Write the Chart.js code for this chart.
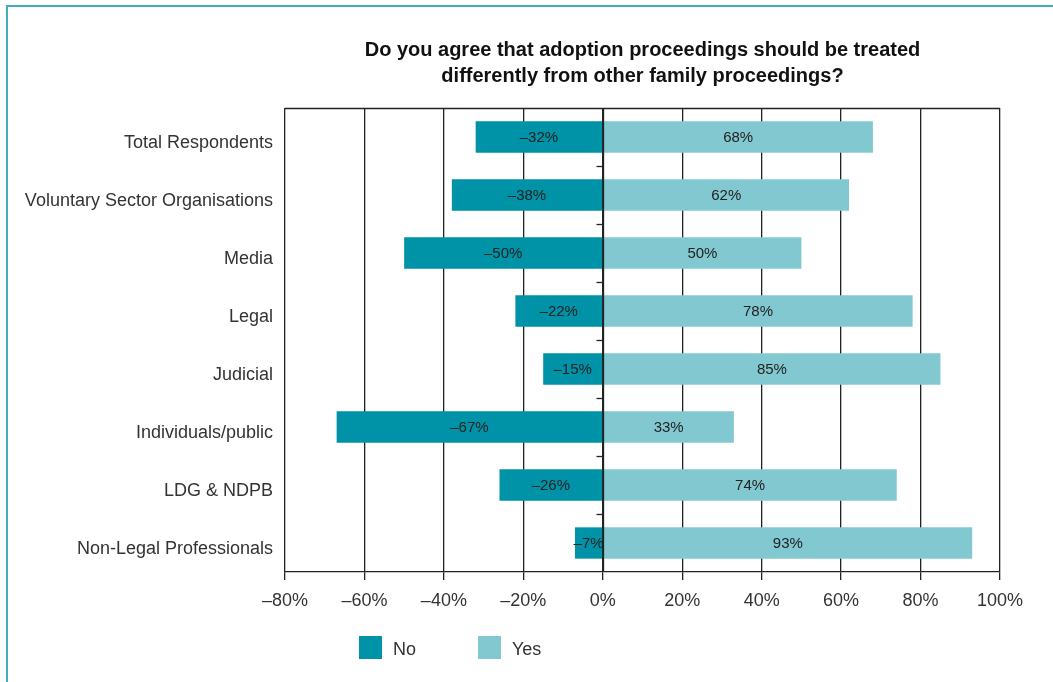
<!DOCTYPE html>
<html>
<head>
<meta charset="utf-8">
<script src="https://cdn.jsdelivr.net/npm/chart.js@4"></script>
<style>
  html, body { margin: 0; padding: 0; background: #fff; }
  #frame {
    position: absolute; left: 6px; top: 5px; right: -10px; bottom: -10px;
    border-left: 2px solid #3fb0ba; border-top: 2px solid #3fb0ba;
  }
  #wrap { position: absolute; left: 0; top: 0; width: 1053px; height: 682px; }
</style>
</head>
<body>
<div id="frame"></div>
<div id="wrap"><canvas id="c" width="1053" height="682"></canvas></div>
<script>
const categories = [
  'Total Respondents',
  'Voluntary Sector Organisations',
  'Media',
  'Legal',
  'Judicial',
  'Individuals/public',
  'LDG & NDPB',
  'Non-Legal Professionals'
];
const noValues = [-32, -38, -50, -22, -15, -67, -26, -7];
const yesValues = [68, 62, 50, 78, 85, 33, 74, 93];
const seriesNames = ['No', 'Yes'];
const seriesColors = ['#0092a7', '#82c8d1'];
const titleLines = [
  'Do you agree that adoption proceedings should be treated',
  'differently from other family proceedings?'
];

const FONT = '"Liberation Sans", Arial, sans-serif';
const fmtPct = v => (v < 0 ? '\u2013' + Math.abs(v) : String(v)) + '%';

const overlay = {
  id: 'overlay',
  afterDatasetsDraw(chart) {
    const { ctx, chartArea, scales } = chart;
    const x = scales.x, y = scales.y;
    ctx.save();
    // zero line on top of bars
    const x0 = Math.round(x.getPixelForValue(0)) + 0.5;
    ctx.strokeStyle = '#222';
    ctx.lineWidth = 1.3;
    ctx.beginPath();
    ctx.moveTo(x0, chartArea.top);
    ctx.lineTo(x0, chartArea.bottom);
    ctx.stroke();
    // category separators on the zero line
    for (let i = 0; i < categories.length - 1; i++) {
      const yy = Math.round((y.getPixelForValue(i) + y.getPixelForValue(i + 1)) / 2) + 0.5;
      ctx.beginPath();
      ctx.moveTo(x0 - 7, yy);
      ctx.lineTo(x0, yy);
      ctx.stroke();
    }
    // top frame line
    ctx.beginPath();
    ctx.moveTo(chartArea.left, Math.round(chartArea.top) + 0.5);
    ctx.lineTo(chartArea.right, Math.round(chartArea.top) + 0.5);
    ctx.stroke();

    // value labels
    ctx.font = '15px ' + FONT;
    ctx.fillStyle = '#222';
    ctx.textAlign = 'center';
    ctx.textBaseline = 'middle';
    chart.data.datasets.forEach((ds, di) => {
      const meta = chart.getDatasetMeta(di);
      meta.data.forEach((bar, i) => {
        const cx = (bar.x + bar.base) / 2;
        ctx.fillText(fmtPct(ds.data[i]), cx, bar.y + 1);
      });
    });

    // title
    const cxTitle = (chartArea.left + chartArea.right) / 2;
    ctx.font = 'bold 20px ' + FONT;
    ctx.fillStyle = '#111';
    titleLines.forEach((t, i) => ctx.fillText(t, cxTitle, 50 + i * 26));

    // legend
    ctx.font = '18px ' + FONT;
    ctx.textAlign = 'left';
    const lx = [359, 478];
    chart.data.datasets.forEach((ds, di) => {
      ctx.fillStyle = ds.backgroundColor;
      ctx.fillRect(lx[di], 636, 23, 23);
      ctx.fillStyle = '#333';
      ctx.fillText(ds.label, lx[di] + 34, 650);
    });
    ctx.restore();
  }
};

new Chart(document.getElementById('c'), {
  type: 'bar',
  data: {
    labels: categories,
    datasets: [
      { label: seriesNames[0], data: noValues, backgroundColor: seriesColors[0] },
      { label: seriesNames[1], data: yesValues, backgroundColor: seriesColors[1] }
    ]
  },
  options: {
    indexAxis: 'y',
    responsive: false,
    animation: false,
    devicePixelRatio: 1,
    categoryPercentage: 1,
    barPercentage: 0.54,
    layout: { padding: { left: 0, right: 53, top: 108, bottom: 70 } },
    plugins: {
      legend: { display: false },
      title: { display: false },
      tooltip: { enabled: false }
    },
    scales: {
      x: {
        stacked: true,
        min: -80, max: 100,
        afterFit: s => { s.height = 40; },
        grid: { color: '#222', lineWidth: 1.3, tickLength: 8, tickColor: '#222' },
        border: { display: true, color: '#222', width: 1.3 },
        ticks: {
          stepSize: 20, padding: 10, color: '#333',
          font: { family: FONT, size: 18 },
          callback: v => fmtPct(v)
        }
      },
      y: {
        stacked: true,
        afterFit: s => { s.width = 285; },
        grid: { display: false },
        border: { display: false },
        ticks: { padding: 4, labelOffset: 6, color: '#333', font: { family: FONT, size: 18 } }
      }
    }
  },
  plugins: [overlay]
});
</script>
</body>
</html>
